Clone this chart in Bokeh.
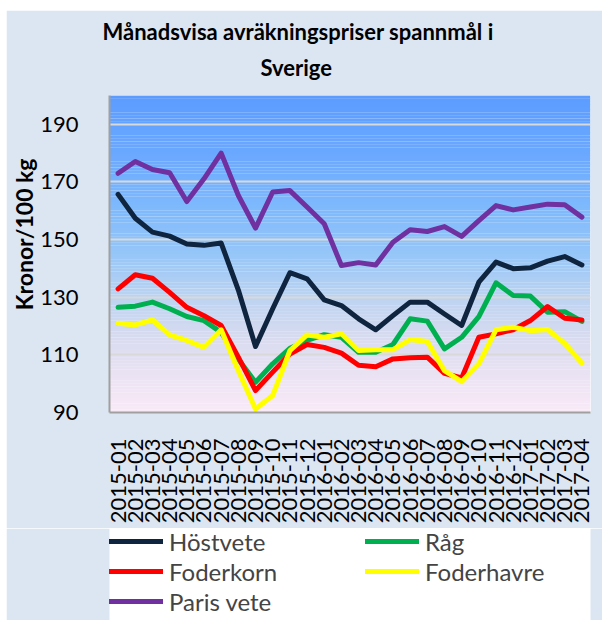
import math
from bokeh.plotting import figure
from bokeh.layouts import column
from bokeh.models import (FactorRange, Range1d, FixedTicker, BoxAnnotation, Legend,
                          LegendItem, Title)
from bokeh.embed import file_html
from bokeh.resources import INLINE

months = ["2015-01", "2015-02", "2015-03", "2015-04", "2015-05", "2015-06", "2015-07",
          "2015-08", "2015-09", "2015-10", "2015-11", "2015-12", "2016-01", "2016-02",
          "2016-03", "2016-04", "2016-05", "2016-06", "2016-07", "2016-08", "2016-09",
          "2016-10", "2016-11", "2016-12", "2017-01", "2017-02", "2017-03", "2017-04"]

hostvete = [165.7, 157.4, 152.6, 151.2, 148.5, 148.0, 148.8, 132.5, 112.9, 126.0, 138.5, 136.4,
            129.1, 127.1, 122.5, 118.7, 123.6, 128.3, 128.3, 124.2, 120.2, 135.2, 142.2, 139.9,
            140.2, 142.5, 144.1, 141.2]
rag = [126.5, 126.9, 128.3, 126.0, 123.3, 121.9, 117.8, 108.5, 100.5, 106.9, 112.3, 115.0,
       117.0, 116.1, 110.9, 110.9, 113.6, 122.5, 121.7, 112.1, 116.1, 123.3, 135.0, 130.6,
       130.4, 124.8, 125.0, 121.6]
foderkorn = [132.9, 137.8, 136.6, 131.7, 126.5, 123.6, 120.2, 109.2, 97.6, 104.0, 110.3, 113.6,
             112.6, 110.6, 106.4, 105.9, 108.6, 109.0, 109.2, 103.6, 102.0, 116.1, 117.3, 118.7,
             121.9, 126.8, 122.7, 122.1]
foderhavre = [121.0, 120.4, 122.1, 116.9, 115.0, 112.6, 118.7, 104.5, 91.2, 95.9, 111.5, 116.9,
              116.1, 117.3, 111.5, 111.8, 111.8, 115.3, 114.6, 104.5, 100.7, 106.9, 118.7, 119.6,
              118.4, 118.8, 114.0, 107.1]
paris = [173.0, 177.1, 174.3, 173.2, 163.2, 171.1, 180.0, 165.3, 154.0, 166.5, 167.0, 161.3,
         155.5, 141.0, 142.0, 141.2, 149.1, 153.4, 152.8, 154.5, 151.1, 156.6, 161.8, 160.3,
         161.3, 162.3, 162.1, 157.8]

series_names = ["Höstvete", "Råg", "Foderkorn", "Foderhavre", "Paris vete"]
y_ticks = [90, 110, 130, 150, 170, 190]

FONT = "Lato"
BG = "#dce6f2"

p = figure(x_range=FactorRange(factors=months), y_range=Range1d(90, 200),
           frame_width=481, frame_height=317,
           min_border_left=103, min_border_right=12, min_border_top=85, min_border_bottom=116,
           output_backend="svg", toolbar_location=None,
           background_fill_color="#ffffff", border_fill_color=BG, outline_line_color=None)
p.margin = (10, 0, 0, 6)

# gradient background of the plot area (styling only)
stops = [(90, (250, 234, 248)), (100, (238, 228, 244)), (115, (218, 220, 240)),
         (130, (188, 211, 241)), (145, (150, 198, 248)), (160, (128, 186, 252)),
         (180, (106, 168, 255)), (200, (92, 156, 255))]


def grad(v):
    for (v0, c0), (v1, c1) in zip(stops[:-1], stops[1:]):
        if v0 <= v <= v1:
            t = (v - v0) / (v1 - v0)
            return "#%02x%02x%02x" % tuple(int(round(a + (b - a) * t)) for a, b in zip(c0, c1))
    return "#%02x%02x%02x" % stops[-1][1]


step = 1.0
v = 90.0
while v < 200:
    p.add_layout(BoxAnnotation(bottom=v, top=v + step + 0.05, fill_color=grad(v + step / 2),
                               fill_alpha=1.0, line_alpha=0, level="image"))
    v += step

colors = ["#0f243e", "#00b050", "#ff0000", "#ffff00", "#7030a0"]
data = [hostvete, rag, foderkorn, foderhavre, paris]
order = [4, 0, 1, 2, 3]  # draw order
for i in order:
    p.line(months, data[i], line_color=colors[i], line_width=5,
           line_join="round", line_cap="round")

# axes
p.yaxis.ticker = FixedTicker(ticks=y_ticks)
p.yaxis.major_tick_line_color = None
p.yaxis.minor_tick_line_color = None
p.yaxis.major_label_standoff = 25
p.yaxis.major_label_text_font = FONT
p.yaxis.major_label_text_font_size = "22px"
p.yaxis.major_label_text_color = "#000000"
p.yaxis.axis_line_color = "#a0a0a0"
p.yaxis.axis_line_width = 2

p.xaxis.major_label_orientation = math.pi / 2
p.xaxis.major_tick_line_color = None
p.xaxis.minor_tick_line_color = None
p.xaxis.major_label_standoff = 20
p.xaxis.major_label_text_font = FONT
p.xaxis.major_label_text_font_size = "22px"
p.xaxis.major_label_text_color = "#000000"
p.xaxis.axis_line_color = "#a0a0a0"
p.xaxis.axis_line_width = 2

p.xgrid.grid_line_color = None
p.ygrid.grid_line_color = "#d9d9d9"
p.ygrid.grid_line_width = 2
p.ygrid.ticker = FixedTicker(ticks=y_ticks[1:])

# titles
p.title.text = "Månadsvisa avräkningspriser spannmål i"
p.title.align = "left"
p.title.offset = -7
try:
    p.title.standoff = -16
except Exception:
    p.title.standoff = 0
p.title.text_font = FONT
p.title.text_font_size = "22px"
p.title.text_font_style = "bold"
p.title.text_color = "#000000"
p.add_layout(Title(text="Sverige", align="left", offset=151, standoff=30,
                   text_font=FONT, text_font_size="22px", text_font_style="bold",
                   text_color="#000000"), "above")

p.add_layout(Title(text="Kronor/100 kg", align="right", offset=63, standoff=0, text_font=FONT,
                   text_font_size="23px", text_font_style="bold", text_color="#000000"), "left")

# legend strip below the chart: same series drawn off-view, only their legend shows
lg = figure(width=596, height=92, x_range=p.x_range, y_range=Range1d(0, 1),
            x_axis_location=None, y_axis_location=None, min_border=0,
            output_backend="svg", toolbar_location=None,
            background_fill_color=None, border_fill_color=BG, outline_line_color=None)
lg.margin = (0, 0, 0, 6)
lg.xgrid.visible = False
lg.ygrid.visible = False
legend_renderers = [lg.line(months, data[i], line_color=colors[i], line_width=5,
                            line_cap="round") for i in range(5)]
items = [LegendItem(label=series_names[i], renderers=[legend_renderers[i]]) for i in range(5)]
legend = Legend(items=items, orientation="horizontal", ncols=2, location=(0, 4),
                glyph_width=54, glyph_height=30, label_height=30, label_width=196,
                label_standoff=6, spacing=0, padding=0, margin=0,
                label_text_font=FONT, label_text_font_size="24px",
                border_line_alpha=0, background_fill_alpha=0)
lg.add_layout(legend, "center")

layout = column(p, lg, spacing=0)
open("out.html", "w").write(file_html(layout, INLINE))
